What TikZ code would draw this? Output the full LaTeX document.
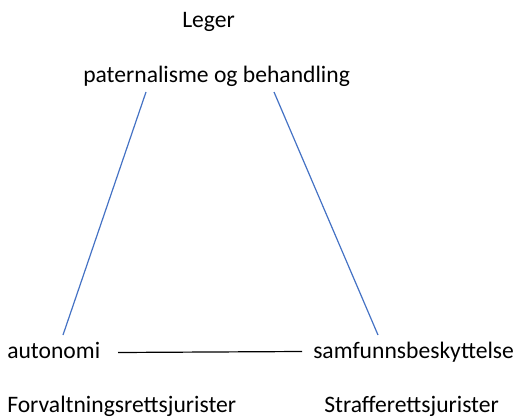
\documentclass[tikz,border=0pt]{standalone}
\usepackage{fontspec}
\setmainfont{Carlito}
\begin{document}
\begin{tikzpicture}[x=0.75pt,y=-0.75pt,
  lbl/.style={inner sep=0pt,font=\fontsize{17.7}{20}\selectfont},
  blueline/.style={draw={rgb,255:red,68;green,114;blue,196},line width=0.9pt},
  blackline/.style={draw=black,line width=0.9pt}]
\useasboundingbox (0,0) rectangle (517,417);
\node[lbl,anchor=base west] (leger) at (182,28) {Leger};
\node[lbl,anchor=base west] (pob) at (83,83) {paternalisme og behandling};
\node[lbl,anchor=base west] (aut) at (7,358) {autonomi};
\node[lbl,anchor=base west] (sam) at (313,358) {samfunnsbeskyttelse};
\node[lbl,anchor=base west] (forv) at (7,412) {Forvaltningsrettsjurister};
\node[lbl,anchor=base west] (straf) at (324,412) {Strafferettsjurister};
\coordinate (p1) at (146,92);
\coordinate (p2) at (274,92);
\coordinate (a1) at (63,335);
\coordinate (s1) at (378,335);
\coordinate (a2) at (118,352.5);
\coordinate (s2) at (302,351.5);
\draw[blueline] (p1) -- (a1);
\draw[blueline] (p2) -- (s1);
\draw[blackline] (a2) -- (s2);
\end{tikzpicture}
\end{document}
